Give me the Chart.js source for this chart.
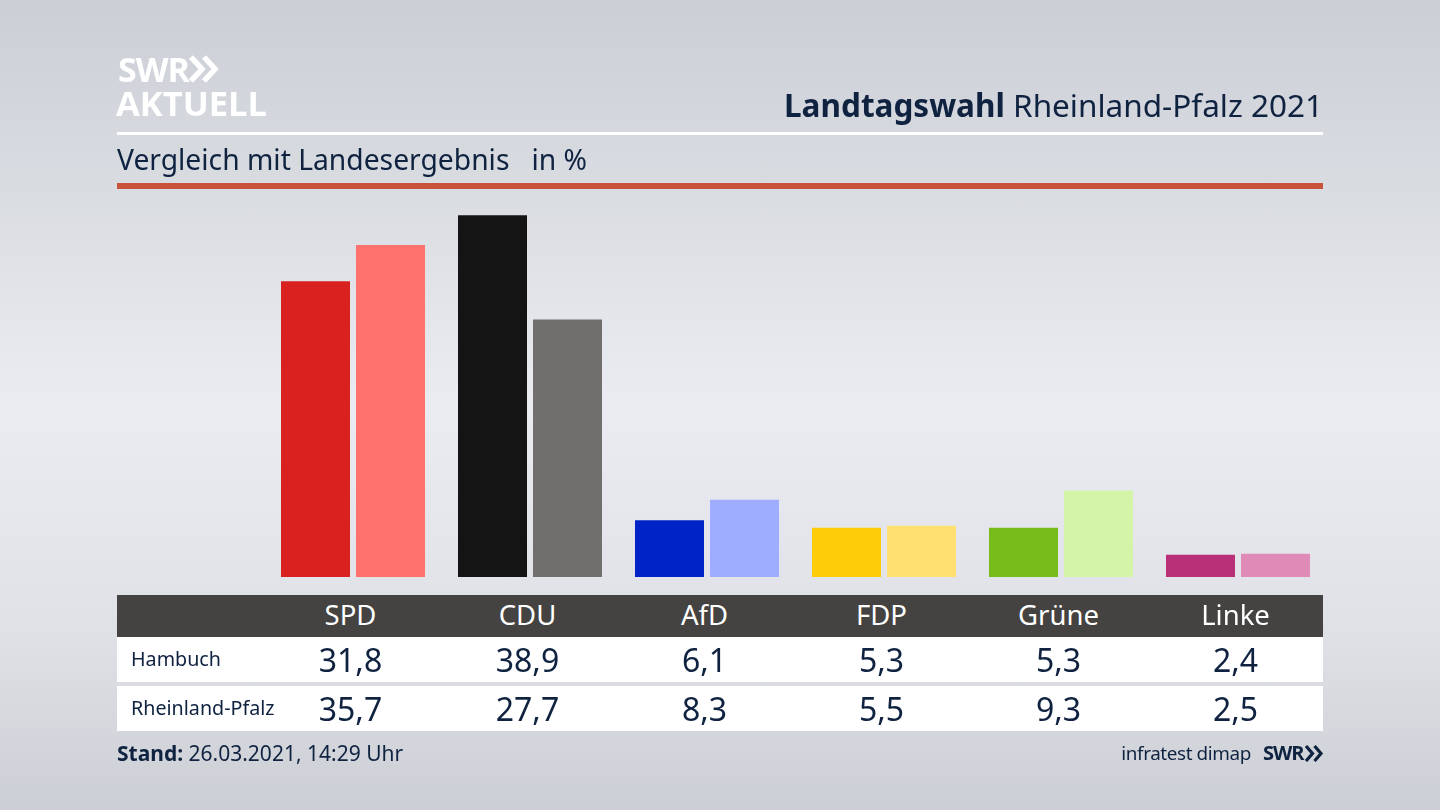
<!DOCTYPE html>
<html lang="de">
<head>
<meta charset="utf-8">
<title>Landtagswahl Rheinland-Pfalz 2021</title>
<script src="https://cdn.jsdelivr.net/npm/chart.js@4"></script>
<style>
  html, body { margin: 0; padding: 0; }
  body {
    width: 1440px; height: 810px; overflow: hidden; position: relative;
    background: linear-gradient(180deg, #cbced5 0%, #d8dbe0 22%, #eaecf1 50%, #dfe1e6 78%, #cbced4 100%);
    font-family: "Noto Sans", sans-serif; color: #0f2240;
  }
  canvas { position: absolute; left: 0; top: 0; }
  .abs { position: absolute; white-space: nowrap; }
  .rule { position: absolute; left: 117px; width: 1206px; }
  .cell { position: absolute; width: 177px; text-align: center; white-space: nowrap; }
  svg.chev { position: absolute; fill: none; stroke-linecap: butt; stroke-linejoin: miter; }
</style>
</head>
<body>
<canvas id="barChart" width="1440" height="810"></canvas>

<div class="abs" style="left:118px;top:48px;font:bold 34px/42px 'Open Sans';color:#fff;letter-spacing:-1px">SWR</div>
<svg class="chev" style="left:189px;top:55px" width="30" height="28" stroke="#fff" stroke-width="5.5"><path d="M2 2 L13 14 L2 26 M15 2 L26 14 L15 26"/></svg>
<div class="abs" style="left:116px;top:81px;font:bold 34.5px/44px 'Open Sans';color:#fff">AKTUELL</div>
<div class="abs" style="right:117px;top:85px;font-size:31.5px;line-height:40px"><b>Landtagswahl</b> Rheinland-Pfalz 2021</div>
<div class="rule" style="top:132px;height:3px;background:#fff"></div>
<div class="abs" style="left:117px;top:141px;font-size:28.25px;line-height:36px;white-space:pre">Vergleich mit Landesergebnis   in %</div>
<div class="rule" style="top:183px;height:6px;background:#cb523a"></div>

<div class="rule" style="top:595px;height:42px;background:#444341"></div>
<div class="rule" style="top:637px;height:45px;background:#fff"></div>
<div class="rule" style="top:686px;height:45px;background:#fff"></div>
<div id="tableCells"></div>

<div class="abs" style="left:117px;top:738px;font-size:21px;line-height:30px"><b>Stand:</b> 26.03.2021, 14:29 Uhr</div>
<div class="abs" style="right:189px;top:739px;font-size:18.9px;line-height:28px;letter-spacing:-.4px">infratest dimap</div>
<div class="abs" style="left:1263px;top:738px;font:bold 20px/30px 'Open Sans';letter-spacing:-1px">SWR</div>
<svg class="chev" style="left:1305px;top:745px" width="19" height="17" stroke="#0f2240" stroke-width="3.2"><path d="M1 1 L7.5 8.5 L1 16 M9.5 1 L16 8.5 L9.5 16"/></svg>

<script>
const parties = ['SPD', 'CDU', 'AfD', 'FDP', 'Grüne', 'Linke'];
const hambuch = [31.8, 38.9, 6.1, 5.3, 5.3, 2.4];
const rheinlandPfalz = [35.7, 27.7, 8.3, 5.5, 9.3, 2.5];
const hambuchColors = ['#d9211f', '#141414', '#0023c8', '#ffcc0a', '#78bc1b', '#b93078'];
const landColors = ['#ff716c', '#706f6d', '#9eadff', '#ffe070', '#d4f5a8', '#e08ab8'];
const rowLabels = ['Hambuch', 'Rheinland-Pfalz'];

const chart = new Chart(document.getElementById('barChart'), {
  type: 'bar',
  data: {
    labels: parties,
    datasets: [
      { label: rowLabels[0], data: hambuch, backgroundColor: hambuchColors, borderWidth: 0 },
      { label: rowLabels[1], data: rheinlandPfalz, backgroundColor: landColors, borderWidth: 0 }
    ]
  },
  options: {
    responsive: false,
    animation: false,
    categoryPercentage: 150 / 177,
    barPercentage: 69 / 75,
    layout: { padding: { left: 264.5, right: 113.5, top: 205, bottom: 233 } },
    plugins: { legend: { display: false }, tooltip: { enabled: false } },
    scales: {
      x: { display: false },
      y: { display: false, min: 0, max: 40 }
    }
  }
});

// table under the bars, columns follow the chart's x scale (text sits a bit left of the bar pair)
const cells = document.getElementById('tableCells');
function addCell(text, left, top, style) {
  const d = document.createElement('div');
  d.className = 'cell';
  d.textContent = text;
  d.style.left = left + 'px';
  d.style.top = top + 'px';
  d.style.cssText += style;
  cells.appendChild(d);
}
const fmt = v => v.toFixed(1).replace('.', ',');
parties.forEach((p, i) => {
  const left = chart.scales.x.getPixelForValue(i) - 91;
  addCell(p, left, 596, 'font-size:27.5px;line-height:38px;color:#fff');
  addCell(fmt(hambuch[i]), left, 639, 'font-size:32px;line-height:42px');
  addCell(fmt(rheinlandPfalz[i]), left, 688, 'font-size:32px;line-height:42px');
});
rowLabels.forEach((r, i) => {
  addCell(r, 131, i === 0 ? 645 : 694, 'font-size:19.7px;line-height:28px;width:auto;text-align:left');
});
</script>
</body>
</html>
